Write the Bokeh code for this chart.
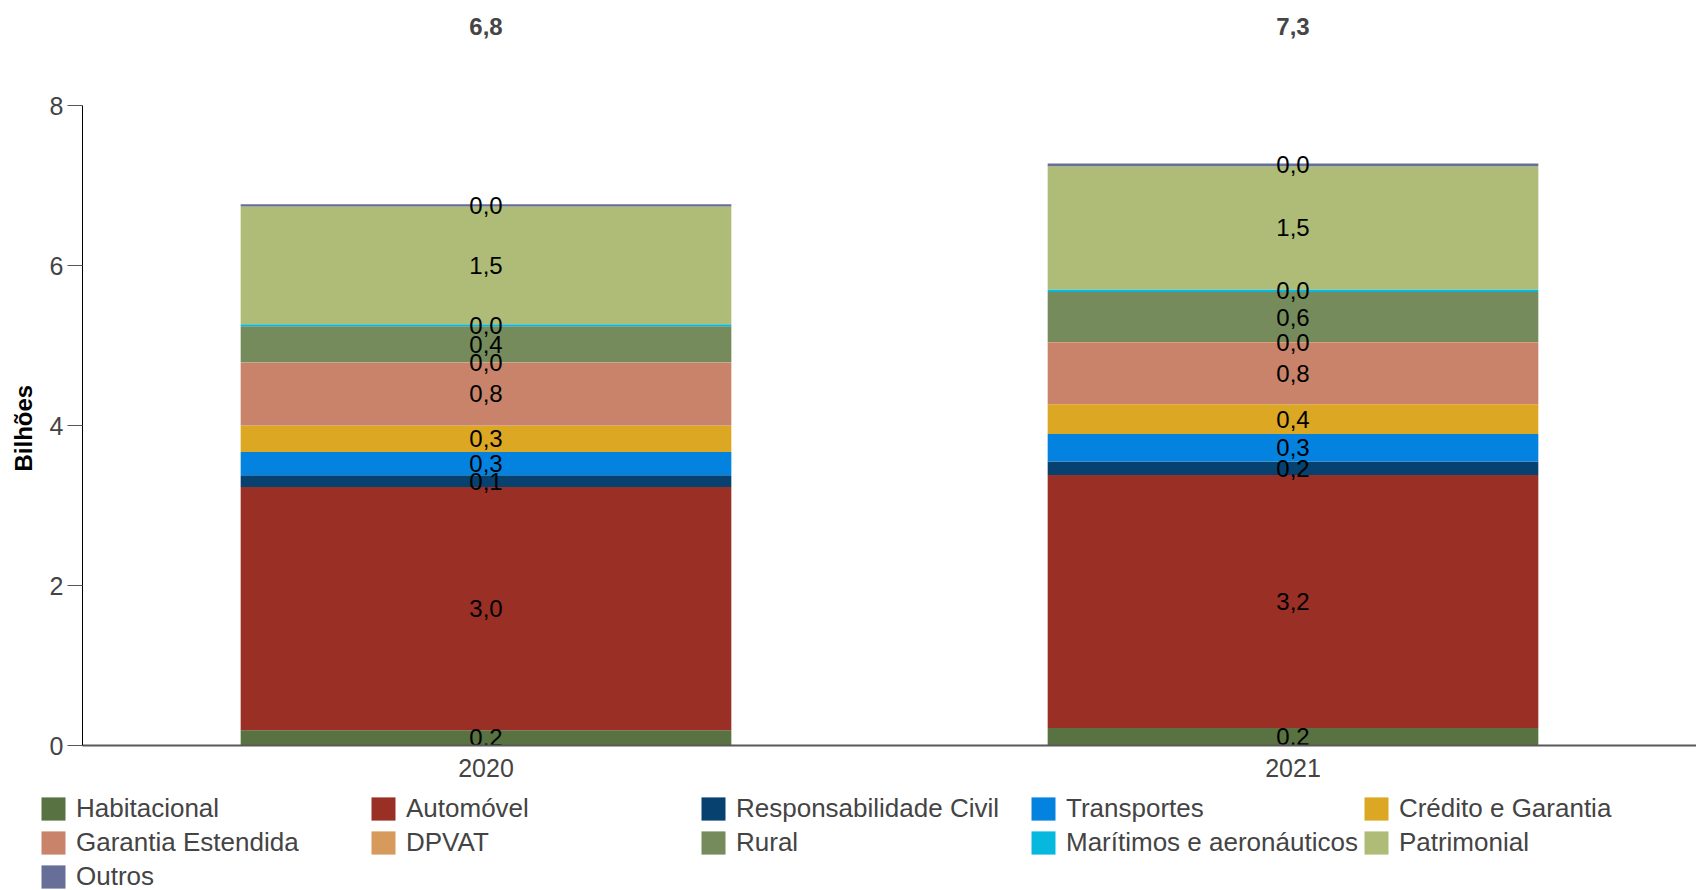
from bokeh.plotting import figure
from bokeh.layouts import column
from bokeh.models import (ColumnDataSource, Range1d, FactorRange, Legend, LegendItem,
                          FixedTicker, Title)
from bokeh.core.properties import value
from bokeh.embed import file_html
from bokeh.resources import INLINE

# ---------------- data ----------------
years = ["2020", "2021"]
segment_names = [
    "Habitacional", "Automóvel", "Responsabilidade Civil", "Transportes",
    "Crédito e Garantia", "Garantia Estendida", "DPVAT", "Rural",
    "Marítimos e aeronáuticos", "Patrimonial", "Outros",
]
habitacional = [0.19, 0.22]
automovel = [3.04, 3.16]
resp_civil = [0.149, 0.17]
transportes = [0.29, 0.345]
credito_garantia = [0.33, 0.37]
garantia_estendida = [0.79, 0.775]
dpvat = [0.003, 0.003]
rural = [0.449, 0.625]
maritimos = [0.025, 0.033]
patrimonial = [1.47, 1.54]
outros = [0.03, 0.034]
segment_values = [habitacional, automovel, resp_civil, transportes, credito_garantia,
                  garantia_estendida, dpvat, rural, maritimos, patrimonial, outros]
segment_colors = ["#587341", "#9a2f25", "#06416f", "#0482df", "#dca823", "#c8836a",
                  "#d59a5c", "#758b5b", "#06b8de", "#afbc78", "#676e97"]
y_ticks = [0, 2, 4, 6, 8]
y_axis_title = "Bilhões"

# ---------------- layout constants ----------------
FONT = "Liberation Sans"
W = 1696
H_MAIN = 785
H_LEG = 105
BORDER_LEFT = 81
BORDER_BOTTOM = 40
PX_PER_UNIT = 80.0
frame_h = H_MAIN - BORDER_BOTTOM
y_end = frame_h / PX_PER_UNIT
TOTAL_Y = (frame_h - 26) / PX_PER_UNIT


def fmt(v):
    return f"{v:.1f}".replace(".", ",")


keys = [f"s{i}" for i in range(len(segment_names))]
data = {"year": years}
for k, vals in zip(keys, segment_values):
    data[k] = vals
source = ColumnDataSource(data)

p = figure(x_range=FactorRange(*years), y_range=Range1d(0, y_end),
           width=W, height=H_MAIN, output_backend="svg", toolbar_location=None,
           title=None, min_border_left=BORDER_LEFT, min_border_right=0,
           min_border_top=0, min_border_bottom=BORDER_BOTTOM)
p.frame_align = False

renderers = p.vbar_stack(keys, x="year", width=0.608, source=source,
                         fill_color=segment_colors, line_alpha=0)

# segment labels
lab_x, lab_y, lab_t = [], [], []
for j, yr in enumerate(years):
    bottom = 0.0
    for vals in segment_values:
        v = vals[j]
        lab_x.append(yr)
        lab_y.append(bottom + v / 2)
        lab_t.append(fmt(v))
        bottom += v
p.text(x=lab_x, y=lab_y, text=lab_t, text_align="center", text_baseline="middle",
       text_font=value(FONT), text_font_size="24px", text_color="black")

# totals
totals = [sum(vals[j] for vals in segment_values) for j in range(len(years))]
p.text(x=years, y=[TOTAL_Y] * len(years), text=[fmt(t) for t in totals],
       text_align="center", text_baseline="middle", text_font=value(FONT),
       text_font_size="24px", text_font_style="bold", text_color="#454545")

# axes
p.xgrid.grid_line_color = None
p.ygrid.grid_line_color = None
p.outline_line_color = None

ya = p.yaxis[0]
ya.ticker = FixedTicker(ticks=y_ticks)
ya.bounds = (0, 8)
ya.major_label_text_font = FONT
ya.major_label_text_font_size = "25px"
ya.major_label_standoff = 4
ya.major_tick_out = 15
ya.major_tick_in = 0
ya.minor_tick_out = 0
ya.minor_tick_in = 0
ya.axis_line_color = "black"
ya.major_tick_line_color = "#555555"

ytitle = Title(text=y_axis_title, align="left", offset=274, vertical_align="middle",
               text_font=FONT, text_font_size="24px", text_font_style="bold",
               text_color="black", standoff=17)
p.add_layout(ytitle, "left")

xa = p.xaxis[0]
xa.major_tick_out = 0
xa.major_tick_in = 0
xa.axis_line_width = 2
xa.axis_line_color = "#595959"
xa.major_label_text_font = FONT
xa.major_label_text_font_size = "25px"
xa.major_label_standoff = 13

# ---------------- legend (separate strip below) ----------------
lf = figure(width=W, height=H_LEG, x_range=Range1d(0, 1), y_range=Range1d(0, 1),
            output_backend="svg", toolbar_location=None, title=None,
            x_axis_type=None, y_axis_type=None,
            min_border_left=0, min_border_right=0, min_border_top=0, min_border_bottom=0)
lf.frame_align = False
lf.xgrid.visible = False
lf.ygrid.visible = False
lf.outline_line_color = None
# zero-height placeholder bars: they draw nothing, they only carry the legend swatch colours
swatches = [lf.vbar(x=[0.5], top=[0], bottom=[0], width=0, fill_color=c, line_alpha=0)
            for c in segment_colors]
items = [LegendItem(label=n, renderers=[r]) for n, r in zip(segment_names, swatches)]
legend = Legend(items=items, orientation="horizontal", ncols=5,
                location=(38, -2), glyph_width=30, glyph_height=29,
                label_standoff=8, label_width=289, label_height=28, spacing=3,
                padding=0, margin=0, border_line_color=None, background_fill_alpha=0,
                label_text_font=FONT, label_text_font_size="26px")
lf.add_layout(legend)

layout = column(p, lf, spacing=0)
open("out.html", "w").write(file_html(layout, INLINE))
